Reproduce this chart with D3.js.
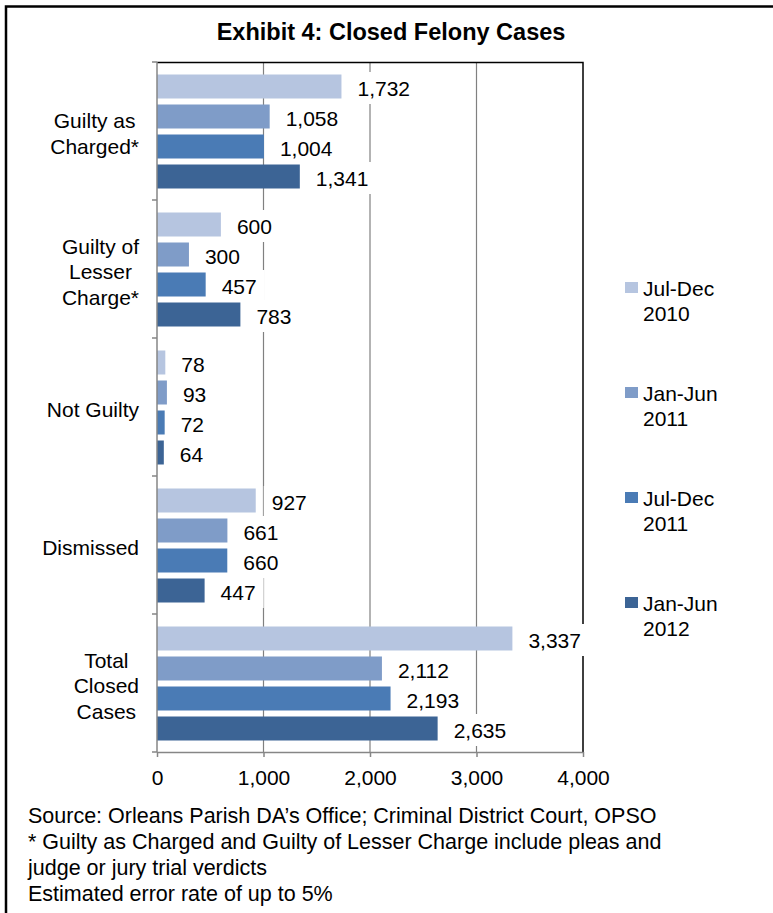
<!DOCTYPE html>
<html>
<head>
<meta charset="utf-8">
<script src="https://cdn.jsdelivr.net/npm/d3@7"></script>
<style>
  html, body { margin: 0; padding: 0; background: #fff; }
  svg { display: block; }
  text { font-family: "Liberation Sans", Arial, sans-serif; fill: #000; }
</style>
</head>
<body>
<svg id="chart" width="773" height="913"></svg>
<script>
const categories = [["Guilty as", "Charged*"], ["Guilty of", "Lesser", "Charge*"], ["Not Guilty"], ["Dismissed"], ["Total", "Closed", "Cases"]];
const seriesNames = [["Jul-Dec", "2010"], ["Jan-Jun", "2011"], ["Jul-Dec", "2011"], ["Jan-Jun", "2012"]];
const seriesColors = ["#b6c5e0", "#7f9cc8", "#4a7bb5", "#3c6495"];
const julDec2010 = [1732, 600, 78, 927, 3337];
const janJun2011 = [1058, 300, 93, 661, 2112];
const julDec2011 = [1004, 457, 72, 660, 2193];
const janJun2012 = [1341, 783, 64, 447, 2635];
const xTicks = [0, 1000, 2000, 3000, 4000];
const title = "Exhibit 4: Closed Felony Cases";
const footnotes = [
  "Source: Orleans Parish DA\u2019s Office; Criminal District Court, OPSO",
  "* Guilty as Charged and Guilty of Lesser Charge include pleas and",
  "judge or jury trial verdicts",
  "Estimated error rate of up to 5%"
];

const series = [julDec2010, janJun2011, julDec2011, janJun2012];
const svg = d3.select("#chart");
const FS = 21;

// outer frame (left and top edges)
svg.append("path").attr("d", "M6,913 V6.5 H773").attr("fill", "none")
  .attr("stroke", "#000").attr("stroke-width", 2.5);

svg.append("text").attr("x", 391).attr("y", 40).attr("text-anchor", "middle")
  .style("font-size", "23.5px").style("font-weight", "bold").text(title);

const x = d3.scaleLinear().domain([0, 4000]).range([157, 583]);
const catIdx = d3.range(categories.length);
const y0 = d3.scaleBand().domain(catIdx).range([62, 752]).padding(0);
const y1 = d3.scaleBand().domain(d3.range(series.length)).range([12.5, 126.5]).paddingInner(0.2).paddingOuter(0);

const grid = svg.append("g");
// gridlines
grid.selectAll("line.grid").data(xTicks.slice(1, -1)).join("line")
  .attr("x1", d => x(d)).attr("x2", d => x(d)).attr("y1", 62).attr("y2", 752)
  .attr("stroke", "#808080").attr("stroke-width", 1.2);
// plot border top and right
grid.append("path").attr("d", `M${x(0)},62.5 H${x(4000)} V752`).attr("fill", "none")
  .attr("stroke", "#000").attr("stroke-width", 1.5);

// bars
const gBars = svg.append("g");
series.forEach((vals, si) => {
  gBars.selectAll(null).data(vals).join("rect")
    .attr("x", x(0)).attr("y", (d, i) => y0(i) + y1(si))
    .attr("width", d => x(d) - x(0)).attr("height", y1.bandwidth())
    .attr("fill", seriesColors[si]);
});

// data labels with white boxes
const fmt = d3.format(",");
const gLab = svg.append("g");
series.forEach((vals, si) => {
  vals.forEach((v, ci) => {
    const cy = y0(ci) + y1(si) + y1.bandwidth() / 2 + 1.5;
    const g = gLab.append("g");
    const t = g.append("text").attr("x", x(v) + 16).attr("y", cy).attr("dy", "0.36em")
      .style("font-size", FS + "px").text(fmt(v));
    const w = t.node().getComputedTextLength();
    g.insert("rect", "text").attr("x", x(v) + 8).attr("y", cy - 16)
      .attr("width", w + 16).attr("height", 32).attr("fill", "#fff");
  });
});

// axes
const xAxis = d3.axisBottom(x).tickValues(xTicks).tickFormat(fmt).tickSize(5).tickSizeOuter(0);
const gx = svg.append("g").attr("transform", "translate(0,752)").call(xAxis);
gx.select(".domain").attr("stroke", "#868686").attr("stroke-width", 1.5);
gx.selectAll(".tick line").attr("stroke", "#868686").attr("stroke-width", 1.5);
gx.selectAll(".tick text").attr("y", 18).attr("dy", "0.71em").style("font-size", FS + "px")
  .style("font-family", '"Liberation Sans", Arial, sans-serif').attr("fill", "#000");

const gy = svg.append("g");
gy.append("line").attr("x1", x(0)).attr("x2", x(0)).attr("y1", 62).attr("y2", 752)
  .attr("stroke", "#868686").attr("stroke-width", 1.5);
gy.selectAll("line.t").data(d3.range(categories.length + 1)).join("line")
  .attr("x1", x(0) - 5).attr("x2", x(0)).attr("y1", d => 62 + d * y0.step()).attr("y2", d => 62 + d * y0.step())
  .attr("stroke", "#868686").attr("stroke-width", 1.5);

// category labels: block right-aligned at 140, lines centered within block
const LH = 25.5;
categories.forEach((lines, ci) => {
  const cy = y0(ci) + y0.bandwidth() / 2 + 2.5;
  const g = gy.append("g");
  const texts = lines.map((ln, li) => g.append("text")
    .attr("y", cy + (li - (lines.length - 1) / 2) * LH).attr("dy", "0.36em")
    .attr("text-anchor", "middle").style("font-size", FS + "px").text(ln));
  const bw = d3.max(texts, t => t.node().getComputedTextLength());
  texts.forEach(t => t.attr("x", 139 - bw / 2));
});

// legend
const gLeg = svg.append("g");
seriesNames.forEach((lines, si) => {
  const top = 288 + si * 105;
  gLeg.append("rect").attr("x", 625).attr("y", top - 6).attr("width", 13).attr("height", 11)
    .attr("fill", seriesColors[si]);
  lines.forEach((ln, li) => {
    gLeg.append("text").attr("x", 643).attr("y", top + li * 25).attr("dy", "0.36em")
      .style("font-size", FS + "px").text(ln);
  });
});

// footnotes
footnotes.forEach((ln, i) => {
  svg.append("text").attr("x", 28).attr("y", 815 + i * 26).attr("dy", "0.36em")
    .style("font-size", "21.5px").text(ln);
});
</script>
</body>
</html>
